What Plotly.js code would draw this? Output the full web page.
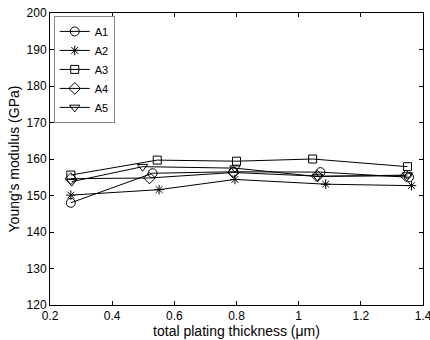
<!DOCTYPE html>
<html><head><meta charset="utf-8">
<script src="https://cdn.plot.ly/plotly-3.0.1.min.js"></script>
<style>html,body{margin:0;padding:0;background:#fff;}#chart{width:430px;height:340px;}</style>
</head><body><div id="chart"></div>
<script>
const seriesNames = ["A1","A2","A3","A4","A5"];
const symbols = ["circle-open","asterisk-open","square-open","diamond-open","triangle-down-open"];
const xA1 = [0.267, 0.53, 0.79, 1.07, 1.355];
const yA1 = [148.0, 156.1, 156.5, 156.4, 155.0];
const xA2 = [0.267, 0.551, 0.795, 1.087, 1.363];
const yA2 = [150.1, 151.6, 154.4, 153.1, 152.7];
const xA3 = [0.267, 0.545, 0.80, 1.045, 1.35];
const yA3 = [155.6, 159.7, 159.4, 160.0, 157.9];
const xA4 = [0.267, 0.52, 0.79, 1.06, 1.345];
const yA4 = [154.6, 154.8, 156.3, 155.3, 155.4];
const xA5 = [0.27, 0.498, 0.795, 1.06, 1.35];
const yA5 = [153.8, 157.9, 157.5, 155.2, 155.6];
const xs = [xA1,xA2,xA3,xA4,xA5];
const ys = [yA1,yA2,yA3,yA4,yA5];
const sizes = [9,8,8,9,9];
const traces = seriesNames.map((n,i)=>({
  x: xs[i], y: ys[i], name: n, type: 'scatter', mode: 'lines+markers',
  line: {color: '#000', width: 1},
  marker: {symbol: symbols[i], size: sizes[i], color: '#000', line: {color: '#000', width: 1}}
}));
const fam = 'Liberation Sans, Arial, sans-serif';
const font = {family: fam, size: 12, color: '#000'};
const layout = {
  width: 430, height: 340,
  margin: {l: 50, r: 7, t: 13, b: 35},
  paper_bgcolor: '#fff', plot_bgcolor: '#fff',
  font: font,
  showlegend: true,
  legend: {x: 0.01, y: 0.99, xanchor: 'left', yanchor: 'top', bgcolor: '#fff',
           bordercolor: '#888', borderwidth: 1, font: {family: fam, size: 11, color: '#000'},
           tracegroupgap: 0, itemwidth: 30},
  xaxis: {range: [0.2, 1.4], dtick: 0.2, tick0: 0.2, showgrid: false, zeroline: false,
          showline: true, linecolor: '#000', linewidth: 1, mirror: 'ticks', ticks: 'inside', ticklen: 4,
          tickcolor: '#000', tickfont: font, ticklabeloverflow: 'allow',
          title: {text: 'total plating thickness (μm)', font: {family: fam, size: 14, color: '#000'}, standoff: 1}},
  yaxis: {range: [120, 200], dtick: 10, showgrid: false, zeroline: false,
          showline: true, linecolor: '#000', linewidth: 1, mirror: 'ticks', ticks: 'inside', ticklen: 4,
          tickcolor: '#000', tickfont: font,
          title: {text: "Young's modulus (GPa)", font: {family: fam, size: 14, color: '#000'}, standoff: 3}}
};
Plotly.newPlot('chart', traces, layout, {displayModeBar: false, staticPlot: true});
</script>
</body></html>
